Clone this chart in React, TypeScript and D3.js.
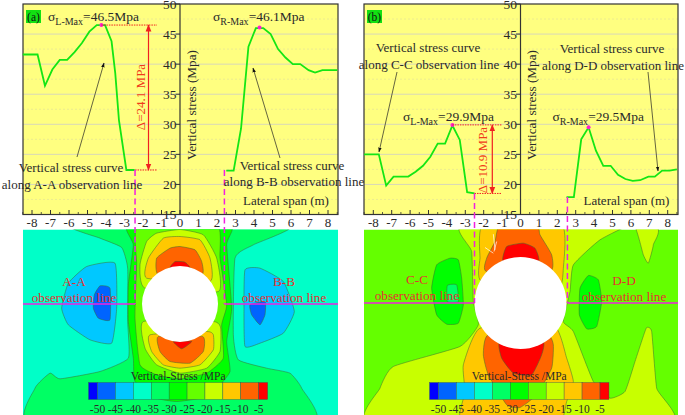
import React from "react";
import * as d3 from "d3";

// ---- line data: [lateral span (m), vertical stress (MPa)]
type P = [number, number];
const curveAL: P[] = [[-8.5,41.6],[-7.7,41.6],[-7.3,36.4],[-6.9,39.1],[-6.5,40.7],[-6.1,40.7],[-5.7,42],[-5.3,43.5],[-4.9,45.4],[-4.5,46.5],[-4.05,46.5],[-3.7,43.8],[-3.5,38.5],[-3.3,30.7],[-2.9,22.4],[-2.45,22.4]];
const curveAR: P[] = [[2.5,22.3],[2.9,22.3],[3.3,29.3],[3.7,42.9],[4.1,46],[4.5,46],[4.9,45],[5.3,42.5],[5.7,41.1],[6.1,40],[6.5,40],[6.95,39],[7.3,38.6],[7.7,39],[8.5,39]];
const curveBL: P[] = [[-8.5,25],[-7.7,25],[-7.3,19.8],[-6.9,21.3],[-6.1,21.3],[-5.7,22.1],[-5.3,23.1],[-4.9,24.6],[-4.5,26.8],[-4.1,26.8],[-3.7,29.8],[-3.3,27.4],[-2.9,18.7],[-2.5,18.5]];
const curveBR: P[] = [[2.5,17.9],[2.9,17.9],[3.3,27.5],[3.7,29.5],[4.1,25.6],[4.5,23.1],[4.9,23.1],[5.3,21.6],[5.7,20.9],[6.1,20.6],[6.5,20.7],[6.95,21.3],[7.3,21.3],[7.7,22.3],[8.1,22.3],[8.5,22.5]];

const xTicks = [-8,-7,-6,-5,-4,-3,-2,-1,0,1,2,3,4,5,6,7,8];
const yTicks = [15,20,25,30,35,40,45,50];
const legendLevels = [-50,-45,-40,-35,-30,-25,-20,-15,-10,-5];
const legendColors = ["#0000ff","#0064ff","#00c8ff","#00ffc8","#00ff64","#00ff00","#64ff00","#c8ff00","#ffc800","#ff6400","#ff0000"];

// ---- contour bands, vertices (mesh units, 3 per screen px)
type Band = { c: string; pts: P[] };
const bandsA: Band[] = [
  { c: "#00ff64", pts: [[215,0],[300,40],[365,68],[383,130],[383,290],[385,400],[300,440],[180,462],[150,445],[105,490],[98,600],[930,600],[905,490],[870,445],[800,430],[715,405],[700,330],[705,100],[760,60],[870,0]] },
  { c: "#00ff00", pts: [[385,0],[400,60],[385,180],[385,290],[400,400],[405,470],[470,520],[530,530],[600,520],[650,490],[690,440],[680,350],[695,250],[680,60],[690,0]] },
  { c: "#64ff00", pts: [[415,0],[410,120],[405,280],[420,420],[470,450],[540,462],[620,445],[670,400],[665,300],[680,240],[660,100],[650,0]] },
  { c: "#c8ff00", pts: [[440,50],[420,120],[435,190],[655,200],[650,100],[610,30],[540,14],[470,25]] },
  { c: "#c8ff00", pts: [[430,290],[435,370],[470,420],[540,445],[620,430],[660,380],[662,310],[640,290]] },
  { c: "#ffc800", pts: [[445,100],[440,160],[630,170],[630,100],[600,45],[540,35],[490,40]] },
  { c: "#ffc800", pts: [[450,330],[455,380],[490,420],[540,430],[600,420],[640,375],[640,330],[620,320]] },
  { c: "#ff6400", pts: [[470,100],[475,150],[605,150],[605,110],[585,75],[540,65],[510,70]] },
  { c: "#ff6400", pts: [[475,335],[480,380],[510,410],[570,415],[610,380],[608,335]] },
  { c: "#ff0000", pts: [[510,130],[525,110],[555,112],[570,130]] },
  { c: "#ff0000", pts: [[520,350],[545,372],[575,350]] },
  { c: "#00c8ff", pts: [[345,115],[260,125],[205,175],[185,250],[205,300],[270,345],[335,355],[350,250]] },
  { c: "#00c8ff", pts: [[735,135],[780,130],[850,170],[883,260],[850,325],[780,355],[735,365],[732,250]] },
  { c: "#0064ff", pts: [[300,183],[330,190],[330,285],[295,280],[280,250],[283,210]] },
  { c: "#0064ff", pts: [[750,240],[795,230],[795,270],[780,300],[755,270]] },
];
const bandsB: Band[] = [
  { c: "#c8ff00", pts: [[370,0],[395,80],[400,230],[415,300],[360,365],[160,425],[120,490],[95,600],[985,600],[950,490],[935,320],[920,308],[908,340],[885,410],[855,500],[810,520],[760,470],[700,320],[670,290],[690,200],[700,120],[780,45],[880,0],[910,90],[925,115],[940,60],[935,0]] },
  { c: "#ffc800", pts: [[430,0],[420,100],[425,170],[650,200],[670,130],[665,0]] },
  { c: "#ffc800", pts: [[420,310],[370,420],[375,500],[365,600],[650,600],[680,530],[700,470],[680,400],[640,300]] },
  { c: "#ff6400", pts: [[480,0],[465,50],[440,100],[440,140],[630,140],[635,90],[600,30],[590,0]] },
  { c: "#ff6400", pts: [[445,330],[430,390],[445,450],[500,540],[540,548],[590,510],[635,430],[640,360],[620,330]] },
  { c: "#ff0000", pts: [[490,110],[500,65],[550,55],[585,70],[595,110]] },
  { c: "#ff0000", pts: [[480,350],[485,400],[520,445],[575,450],[605,390],[608,350]] },
  { c: "#00ff00", pts: [[330,100],[290,120],[275,190],[290,270],[320,298],[355,295],[370,240],[365,160],[355,105]] },
  { c: "#00ff00", pts: [[745,152],[720,190],[718,270],[740,312],[770,305],[785,230],[775,165]] },
  { c: "#00ff64", pts: [[322,182],[350,180],[355,230],[322,230]] },
];
const cracksB: P[][] = [
  [[460,28],[465,75]],
  [[435,68],[460,85]],
  [[470,50],[462,80]],
];

const FONT = "'Liberation Serif','Times New Roman',serif";
const INK = "#2a2a2a";
const RED = "#f02020";
const PINK = "#f020e0";

type Note = { x: number; y: number; t: string };
type PanelProps = {
  id: string; left: number; right: number; cx: number; unit: number;
  label: string; left_c: P[]; right_c: P[]; peakL: P; peakR: P;
  lowL: P; lowR: P; deltaText: string; deltaX: number; deltaEnd: number; deltaTextX: number; deltaTextY: number;
  sigmaL: [number, number, string]; sigmaR: [number, number, string];
  notes: Note[]; arrows: [number, number, number, number][];
  obs: { name: string; x: number; y: number }[];
  bg: string; bands: Band[]; cracks: P[][]; cy: number; r: number; mesh0: number;
  legendX: [number, number];
};

function Sigma({ x, y, sub, val }: { x: number; y: number; sub: string; val: string }) {
  return (
    <text x={x} y={y} fontSize={13.5} fill={INK}>
      σ<tspan fontSize={10} dy={3.5}>{sub}</tspan><tspan dy={-3.5}>{val}</tspan>
    </text>
  );
}

function Panel(p: PanelProps) {
  const top = 4, bottom = 214.5, meshTop = 229.5, meshBottom = 415;
  const x = d3.scaleLinear().domain([0, 8]).range([p.cx, p.cx + 8 * p.unit]);
  const y = d3.scaleLinear().domain([15, 50]).range([bottom, top]);
  const line = d3.line<P>().x(d => x(d[0])).y(d => y(d[1]));
  const minorY = d3.range(15, 50, 2.5).filter(v => v % 5 !== 0);
  const minorX = d3.range(-8.5, 8.6, 0.5).filter(v => v % 1 !== 0);

  // mesh scales (three mesh units per screen pixel)
  const mx = d3.scaleLinear().domain([p.mesh0, p.mesh0 + 3]).range([p.left, p.left + 1]);
  const my = d3.scaleLinear().domain([14, 17]).range([meshTop, meshTop + 1]);
  const contour = d3.line<P>().x(d => mx(d[0])).y(d => my(d[1])).curve(d3.curveCardinalClosed.tension(0.55));
  const crack = d3.line<P>().x(d => mx(d[0])).y(d => my(d[1]));
  const legend = d3.scaleLinear().domain([-50, -5]).range(p.legendX);
  const step = legend(-45) - legend(-50);
  const edges = [legend(-50) - step / 2, ...legendLevels.map(v => legend(v)), legend(-5) + step / 2];
  const legY0 = 382.5, legY1 = 399.5;
  const xL = x(p.lowL[0]), xR = x(p.lowR[0]);

  return (
    <g fontFamily={FONT}>
      <defs>
        <clipPath id={"clip" + p.id}><rect x={p.left} y={meshTop} width={p.right - p.left} height={meshBottom - meshTop} /></clipPath>
        <marker id={"ah" + p.id} viewBox="0 0 10 10" refX={9} refY={5} markerWidth={7} markerHeight={7} orient="auto"><path d="M0,1.5L10,5L0,8.5z" fill="#111" /></marker>
        <marker id={"dh" + p.id} viewBox="0 0 10 10" refX={9} refY={5} markerWidth={6} markerHeight={6} orient="auto"><path d="M0,1L10,5L0,9z" fill={RED} /></marker>
        <marker id={"ds" + p.id} viewBox="0 0 10 10" refX={1} refY={5} markerWidth={6} markerHeight={6} orient="auto"><path d="M10,1L0,5L10,9z" fill={RED} /></marker>
      </defs>

      {/* contour map */}
      <g clipPath={`url(#clip${p.id})`}>
        <rect x={p.left} y={meshTop} width={p.right - p.left} height={meshBottom - meshTop} fill={p.bg} />
        {p.bands.map((b, i) => (
          <path key={i} d={contour(b.pts) ?? ""} fill={b.c} stroke="#3a6a30" strokeWidth={0.5} />
        ))}
        {p.cracks.map((c, i) => (
          <path key={i} d={crack(c) ?? ""} fill="none" stroke="#fff" strokeWidth={0.7} />
        ))}
        <circle cx={x(0)} cy={p.cy} r={p.r} fill="#fff" />
      </g>

      {/* stress plot */}
      <rect x={p.left} y={top} width={p.right - p.left} height={bottom - top} fill="#ffff80" />
      {yTicks.filter(v => v > 15 && v < 50).map(v => (
        <line key={v} x1={p.left} x2={p.right} y1={y(v)} y2={y(v)} stroke="#d8d8b8" strokeWidth={1} />
      ))}
      {minorY.map(v => (
        <line key={v} x1={p.left} x2={p.right} y1={y(v)} y2={y(v)} stroke="#e4e498" strokeWidth={0.7} strokeDasharray="2 2" />
      ))}
      <rect x={p.left} y={top} width={p.right - p.left} height={bottom - top} fill="none" stroke="#333" strokeWidth={1.2} />
      <line x1={x(0)} x2={x(0)} y1={top} y2={bottom} stroke="#333" strokeWidth={1.2} />
      {xTicks.map(v => (
        <g key={v}>
          <line x1={x(v)} x2={x(v)} y1={bottom} y2={bottom - 4.5} stroke="#333" strokeWidth={1} />
          <text x={x(v)} y={227} fontSize={13} textAnchor="middle" fill={INK}>{v}</text>
        </g>
      ))}
      {minorX.map(v => <line key={v} x1={x(v)} x2={x(v)} y1={bottom} y2={bottom - 2.5} stroke="#333" strokeWidth={0.8} />)}
      {yTicks.map(v => (
        <g key={v}>
          <line x1={x(0)} x2={x(0) - 4.5} y1={y(v)} y2={y(v)} stroke="#333" strokeWidth={1} />
          <text x={x(0) - 3.5} y={y(v) + 4.5} fontSize={13.5} textAnchor="end" fill={INK}>{v}</text>
        </g>
      ))}
      <text transform={`translate(${x(0) + 12.5},105) rotate(-90)`} fontSize={13.2} textAnchor="middle" fill={INK} dominantBaseline="middle">Vertical stress (Mpa)</text>
      <text x={x(0) + 106} y={205} fontSize={13} textAnchor="middle" fill={INK}>Lateral span (m)</text>

      {/* curves */}
      <path d={line(p.left_c) ?? ""} fill="none" stroke="#14e614" strokeWidth={1.8} />
      <path d={line(p.right_c) ?? ""} fill="none" stroke="#14e614" strokeWidth={1.8} />
      <circle cx={x(p.peakL[0])} cy={y(p.peakL[1])} r={2} fill="#ff20d0" />
      <circle cx={x(p.peakR[0])} cy={y(p.peakR[1])} r={2} fill="#ff20d0" />

      {/* delta marker */}
      <line x1={x(p.peakL[0])} x2={p.deltaEnd} y1={y(p.peakL[1])} y2={y(p.peakL[1])} stroke={RED} strokeWidth={1} strokeDasharray="1.5 1" />
      <line x1={x(p.lowL[0])} x2={p.deltaEnd} y1={y(p.lowL[1])} y2={y(p.lowL[1])} stroke={RED} strokeWidth={1} strokeDasharray="1.5 1" />
      <line x1={p.deltaX} x2={p.deltaX} y1={y(p.peakL[1])} y2={y(p.lowL[1])} stroke={RED} strokeWidth={1.2} markerStart={`url(#ds${p.id})`} markerEnd={`url(#dh${p.id})`} />
      <text transform={`translate(${p.deltaTextX},${p.deltaTextY}) rotate(-90)`} fontSize={13} textAnchor="middle" fill="#f03a1a">{p.deltaText}</text>

      {/* observation lines */}
      <line x1={xL} x2={xL} y1={y(p.lowL[1])} y2={p.cy} stroke={PINK} strokeWidth={1.5} strokeDasharray="6 3.5" />
      <line x1={xR} x2={xR} y1={y(p.lowR[1])} y2={p.cy} stroke={PINK} strokeWidth={1.5} strokeDasharray="6 3.5" />
      <line x1={p.left} x2={xL} y1={p.cy} y2={p.cy} stroke={PINK} strokeWidth={1.3} />
      <line x1={xR} x2={p.right} y1={p.cy} y2={p.cy} stroke={PINK} strokeWidth={1.3} />
      {p.obs.map(o => (
        <g key={o.name} fontSize={13.2} fill="#e63030" textAnchor="middle">
          <text x={o.x} y={o.y}>{o.name}</text>
          <text x={o.x} y={o.y + 15.5}>observation line</text>
        </g>
      ))}

      {/* labels */}
      <rect x={p.left + 3} y={10} width={15} height={13} fill="#12e012" />
      <text x={p.left + 10.5} y={20.5} fontSize={11.5} textAnchor="middle" fill="#111">{p.label}</text>
      <Sigma x={p.sigmaL[0]} y={p.sigmaL[1]} sub="L-Max" val={p.sigmaL[2]} />
      <Sigma x={p.sigmaR[0]} y={p.sigmaR[1]} sub="R-Max" val={p.sigmaR[2]} />
      {p.notes.map((n, i) => (
        <text key={i} x={n.x} y={n.y} fontSize={13} textAnchor="middle" fill={INK}>{n.t}</text>
      ))}
      {p.arrows.map((a, i) => (
        <line key={i} x1={a[0]} y1={a[1]} x2={a[2]} y2={a[3]} stroke="#222" strokeWidth={0.7} markerEnd={`url(#ah${p.id})`} />
      ))}

      {/* colour legend */}
      <text x={(p.legendX[0] + p.legendX[1]) / 2} y={380} fontSize={11.5} textAnchor="middle" fill={INK}>Vertical-Stress /MPa</text>
      {legendColors.map((c, i) => (
        <rect key={c} x={edges[i]} y={legY0} width={edges[i + 1] - edges[i]} height={legY1 - legY0} fill={c} stroke="#355" strokeWidth={0.4} />
      ))}
      {legendLevels.map(v => (
        <text key={v} x={legend(v)} y={413} fontSize={11.5} textAnchor="middle" fill={INK}>{v}</text>
      ))}
    </g>
  );
}

export default function App() {
  return (
    <svg width={685} height={415} viewBox="0 0 685 415" style={{ position: "fixed", left: 0, top: 0, background: "#fff" }}>
      <Panel id="a" left={23} right={338} cx={180} unit={18.5} label="(a)" left_c={curveAL} right_c={curveAR}
        peakL={[-4.25, 46.5]} peakR={[4.3, 46.1]} lowL={[-2.43, 22.4]} lowR={[2.4, 22.4]}
        deltaText="Δ=24.1 MPa" deltaX={148.5} deltaEnd={157} deltaTextX={145} deltaTextY={97}
        sigmaL={[48, 21, "=46.5Mpa"]} sigmaR={[213, 21, "=46.1Mpa"]}
        notes={[
          { x: 71, y: 172, t: "Vertical stress curve" },
          { x: 72, y: 189, t: "along A-A observation line" },
          { x: 292, y: 170, t: "Vertical stress curve" },
          { x: 294, y: 186, t: "along B-B observation line" },
        ]}
        arrows={[[77, 157, 104, 63], [280, 158, 253, 68]]}
        obs={[{ name: "A-A", x: 74, y: 286 }, { name: "B-B", x: 284, y: 286 }]}
        bg="#00ffc8" bands={bandsA} cracks={[]} cy={304} r={38} mesh0={69} legendX={[97.5, 258.7]} />
      <Panel id="b" left={364} right={678} cx={520.5} unit={18.4} label="(b)" left_c={curveBL} right_c={curveBR}
        peakL={[-3.7, 29.9]} peakR={[3.7, 29.5]} lowL={[-2.5, 18.5]} lowR={[2.55, 17.9]}
        deltaText="Δ=10.9 MPa" deltaX={492.3} deltaEnd={501.7} deltaTextX={487} deltaTextY={160}
        sigmaL={[403, 121, "=29.9Mpa"]} sigmaR={[552.5, 121, "=29.5Mpa"]}
        notes={[
          { x: 428, y: 52, t: "Vertical stress curve" },
          { x: 429, y: 69, t: "along C-C observation line" },
          { x: 612, y: 53, t: "Vertical stress curve" },
          { x: 613, y: 70, t: "along D-D observation line" },
        ]}
        arrows={[[397, 72, 379, 152], [648, 72, 658, 171]]}
        obs={[{ name: "C-C", x: 417, y: 284 }, { name: "D-D", x: 624, y: 285 }]}
        bg="#64ff00" bands={bandsB} cracks={cracksB} cy={303} r={46} mesh0={72} legendX={[438.5, 600]} />
    </svg>
  );
}
